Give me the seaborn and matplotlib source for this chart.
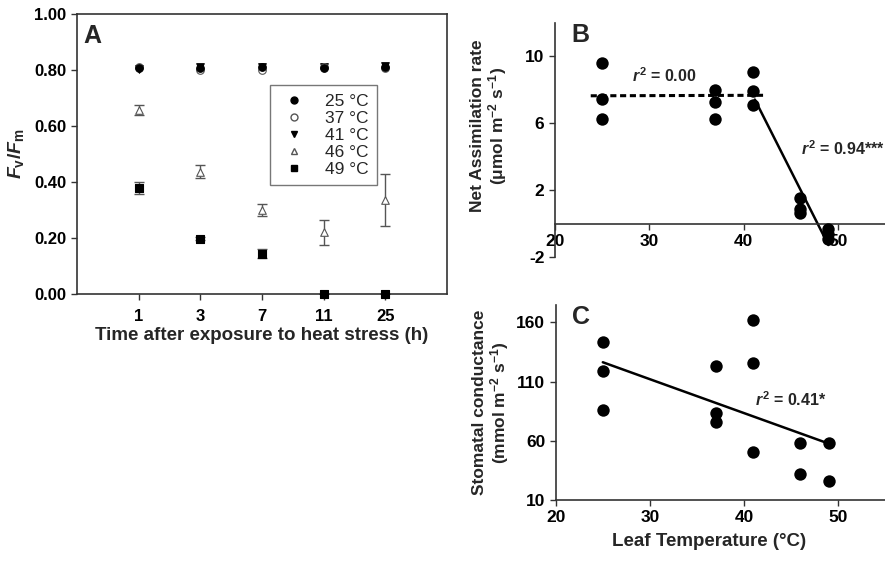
import numpy as np
import pandas as pd
import seaborn as sns
import matplotlib
matplotlib.use("Agg")
import matplotlib.pyplot as plt
from matplotlib.lines import Line2D

# ---------------- data ----------------
times = ["1", "3", "7", "11", "25"]
temps_A = ["25 °C", "37 °C", "41 °C", "46 °C", "49 °C"]
fvfm_25 = [0.808, 0.808, 0.810, 0.808, 0.810]
fvfm_37 = [0.810, 0.800, 0.800, 0.810, 0.808]
fvfm_41 = [0.805, 0.810, 0.812, 0.810, 0.815]
fvfm_46 = [0.657, 0.437, 0.300, 0.221, 0.336]
err_46 = [0.017, 0.022, 0.021, 0.045, 0.094]
fvfm_49 = [0.378, 0.197, 0.144, 0.0, 0.0]
err_49 = [0.022, 0.005, 0.017, 0.0, 0.0]

leaf_temp_B = [25, 25, 25, 37, 37, 37, 41, 41, 41, 46, 46, 46, 49, 49, 49]
net_assim = [9.6, 7.45, 6.25, 8.0, 7.3, 6.25, 9.05, 7.95, 7.1, 1.55, 0.85, 0.65, -0.35, -0.65, -0.9]

leaf_temp_C = [25, 25, 25, 37, 37, 37, 41, 41, 41, 46, 46, 49, 49]
stomatal = [143.7, 119.3, 85.7, 123.5, 83.0, 75.9, 162.2, 125.8, 50.1, 58.2, 31.9, 58.2, 26.3]

# ---------------- style ----------------
sns.set_style("ticks")
plt.rcParams["font.family"] = ["Liberation Sans", "DejaVu Sans"]
plt.rcParams["mathtext.fontset"] = "custom"
plt.rcParams["mathtext.rm"] = "Liberation Sans:bold"
plt.rcParams["mathtext.it"] = "Liberation Sans:italic:bold"
plt.rcParams["mathtext.bf"] = "Liberation Sans:bold"

fig = plt.figure(figsize=(8.85, 5.61), dpi=100)
axA = fig.add_axes([0.087, 0.476, 0.418, 0.499])
axB = fig.add_axes([0.627, 0.542, 0.373, 0.417])
axC = fig.add_axes([0.628, 0.109, 0.372, 0.348])

# ---------------- Panel A ----------------
rows = []
series = [fvfm_25, fvfm_37, fvfm_41, fvfm_46, fvfm_49]
for t, vals in zip(temps_A, series):
    for i, v in enumerate(vals):
        rows.append({"temp": t, "pos": i + 1, "val": v})
dfA = pd.DataFrame(rows)
pos = np.arange(1, len(times) + 1)

axA.errorbar(pos, fvfm_46, yerr=err_46, fmt="none", ecolor="#555555",
             elinewidth=1.0, capsize=3.5, capthick=1.0, zorder=2)
axA.errorbar(pos, fvfm_49, yerr=err_49, fmt="none", ecolor="#555555",
             elinewidth=1.0, capsize=3.5, capthick=1.0, zorder=2)

styles = {
    "25 °C": dict(marker="o", fc="black", ec="black", z=5),
    "37 °C": dict(marker="o", fc="white", ec="#555555", z=4),
    "41 °C": dict(marker="v", fc="black", ec="black", z=3),
    "46 °C": dict(marker="^", fc="white", ec="#555555", z=3),
    "49 °C": dict(marker="s", fc="black", ec="black", z=3),
}
handles = []
for t in temps_A:
    st = styles[t]
    sub = dfA[dfA["temp"] == t]
    sns.scatterplot(data=sub, x="pos", y="val", ax=axA, marker=st["marker"],
                    color=st["fc"], edgecolor=st["ec"], linewidth=0.8, s=30,
                    zorder=st["z"], clip_on=False, legend=False)
    handles.append(Line2D([], [], linestyle="none", marker=st["marker"],
                          markerfacecolor=st["fc"], markeredgecolor=st["ec"],
                          markersize=5, label=t))

axA.set_xlim(0, 6)
axA.set_ylim(0, 1.0)
axA.set_xticks(pos)
axA.set_xticklabels(times, fontweight="bold", fontsize=12)
axA.set_yticks(np.arange(0, 1.01, 0.2))
axA.set_yticklabels([f"{v:.2f}" for v in np.arange(0, 1.01, 0.2)],
                    fontweight="bold", fontsize=12)
for sp in axA.spines.values():
    sp.set_visible(True)
    sp.set_linewidth(1.2)
    sp.set_color("#333333")
axA.tick_params(length=4, width=1, colors="#333333", labelcolor="black")
axA.tick_params(axis="x", pad=7)
axA.set_xlabel("Time after exposure to heat stress (h)", fontweight="bold",
               fontsize=13.5, labelpad=2)
axA.set_ylabel("$\\mathit{F}_{\\mathrm{v}}/\\mathit{F}_{\\mathrm{m}}$", fontsize=14,
               labelpad=6)
axA.text(0.017, 0.965, "A", transform=axA.transAxes, fontsize=18,
         fontweight="bold", va="top", ha="left")
leg = axA.legend(handles=handles, loc="upper left", bbox_to_anchor=(0.522, 0.745),
                 frameon=True, fancybox=False, fontsize=12.5, handletextpad=0.85,
                 borderpad=0.5, labelspacing=0.1, handlelength=1.8,
                 borderaxespad=0)
leg.get_frame().set_edgecolor("#555555")
leg.get_frame().set_linewidth(1.0)

# ---------------- Panel B ----------------
dfB = pd.DataFrame({"T": leaf_temp_B, "A": net_assim})
sns.scatterplot(data=dfB, x="T", y="A", ax=axB, color="black", s=80,
                edgecolor="black", linewidth=0, zorder=3, clip_on=False)
low = dfB[dfB["T"] <= 41]
high = dfB[dfB["T"] >= 41]
p1 = np.polyfit(low["T"], low["A"], 1)
p2 = np.polyfit(high["T"], high["A"], 1)
xl = np.array([23.8, 42.2])
axB.plot(xl, np.polyval(p1, xl), ls=(0, (2.0, 1.2)), color="black", lw=2.2, zorder=2)
xh = np.array([41.2, 49.0])
axB.plot(xh, np.polyval(p2, xh), color="black", lw=1.8, zorder=2)

axB.set_xlim(20, 55)
axB.set_ylim(-2, 12)
axB.spines["top"].set_visible(False)
axB.spines["right"].set_visible(False)
axB.spines["bottom"].set_position(("data", 0))
for sp in ("left", "bottom"):
    axB.spines[sp].set_linewidth(1.2)
    axB.spines[sp].set_color("#333333")
axB.set_xticks([20, 30, 40, 50])
axB.set_xticklabels(["20", "30", "40", "50"], fontweight="bold", fontsize=12.5)
axB.set_yticks([-2, 2, 6, 10])
axB.set_yticklabels(["-2", "2", "6", "10"], fontweight="bold", fontsize=12.5)
axB.tick_params(length=4, width=1, colors="#333333", labelcolor="black")
axB.set_xlabel("")
axB.set_ylabel("Net Assimilation rate\n(μmol m$^{\\mathregular{-2}}$ s$^{\\mathregular{-1}}$)",
               fontweight="bold", fontsize=12.5, linespacing=1.05)
axB.yaxis.set_label_coords(-0.14, 0.56)
axB.text(0.05, 1.0, "B", transform=axB.transAxes, fontsize=18,
         fontweight="bold", va="top", ha="left")
axB.text(31.6, 8.3, "$\\mathit{r}^{2}$ = 0.00", fontsize=11.5, fontweight="bold",
         ha="center", va="bottom")
axB.text(55.0, 4.5, "$\\mathit{r}^{2}$ = 0.94***", fontsize=11.5, fontweight="bold",
         ha="right", va="center")

# ---------------- Panel C ----------------
dfC = pd.DataFrame({"T": leaf_temp_C, "g": stomatal})
sns.regplot(data=dfC, x="T", y="g", ax=axC, ci=None, truncate=True,
            scatter_kws=dict(s=80, color="black", alpha=1, linewidths=0, zorder=3,
                             clip_on=False),
            line_kws=dict(color="black", lw=1.8, zorder=2))
axC.set_xlim(20, 55)
axC.set_ylim(10, 175)
axC.spines["top"].set_visible(False)
axC.spines["right"].set_visible(False)
for sp in ("left", "bottom"):
    axC.spines[sp].set_linewidth(1.2)
    axC.spines[sp].set_color("#333333")
axC.set_xticks([20, 30, 40, 50])
axC.set_xticklabels(["20", "30", "40", "50"], fontweight="bold", fontsize=12.5)
axC.set_yticks([10, 60, 110, 160])
axC.set_yticklabels(["10", "60", "110", "160"], fontweight="bold", fontsize=12.5)
axC.tick_params(length=4, width=1, colors="#333333", labelcolor="black")
axC.set_xlabel("Leaf Temperature (°C)", fontweight="bold", fontsize=13.5, labelpad=4)
axC.xaxis.set_label_coords(0.465, -0.17)
axC.set_ylabel("Stomatal conductance\n(mmol m$^{\\mathregular{-2}}$ s$^{\\mathregular{-1}}$)",
               fontweight="bold", fontsize=12.5, labelpad=4, linespacing=1.05)
axC.text(0.05, 1.0, "C", transform=axC.transAxes, fontsize=18,
         fontweight="bold", va="top", ha="left")
axC.text(41.2, 95, "$\\mathit{r}^{2}$ = 0.41*", fontsize=11.5, fontweight="bold",
         ha="left", va="center")

fig.savefig("out.png", dpi=100)
